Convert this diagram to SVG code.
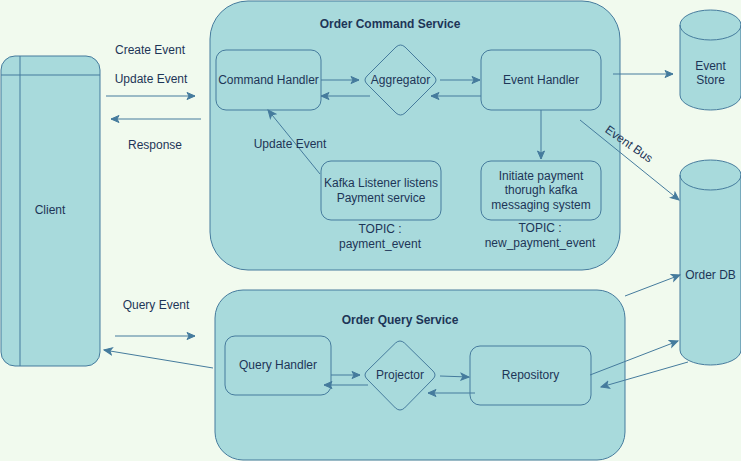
<svg xmlns="http://www.w3.org/2000/svg" width="741" height="461" viewBox="0 0 741 461">
<defs>
<marker id="ah" markerUnits="userSpaceOnUse" markerWidth="10" markerHeight="10" viewBox="0 0 10 10" refX="9" refY="5" orient="auto">
<path d="M1,1.5 L9,5 L1,8.5 L3,5 Z" fill="#457B9D" stroke="#457B9D" stroke-width="1"/>
</marker>
</defs>
<style>
.shape{fill:#A8DADC;stroke:#457B9D;stroke-width:1}
.edge{fill:none;stroke:#457B9D;stroke-width:1;marker-end:url(#ah)}
text{font-family:"Liberation Sans",Arial,sans-serif;font-size:12px;fill:#1D3557;text-anchor:middle}
.title{font-weight:bold}
</style>
<rect width="741" height="461" fill="#F1FAEE"/>
<g id="client">
<rect class="shape" x="1" y="56" width="99" height="310" rx="14"/>
<line x1="20" y1="56" x2="20" y2="366" stroke="#457B9D"/>
<line x1="1" y1="75" x2="100" y2="75" stroke="#457B9D"/>
<text x="50" y="214">Client</text>
</g>
<g id="command-service">
<rect class="shape" x="210" y="1" width="410" height="269" rx="38"/>
<text class="title" x="390" y="28">Order Command Service</text>
</g>
<g id="query-service">
<rect class="shape" x="215" y="290" width="410" height="170" rx="28"/>
<text class="title" x="400" y="324">Order Query Service</text>
</g>
<g id="command-handler">
<rect class="shape" x="216" y="50" width="105" height="60" rx="10"/>
<text x="268.5" y="84">Command Handler</text>
</g>
<g id="aggregator">
<path class="shape" d="M396,47 Q400.5,43 405,47 L434,76 Q438,80 434,84 L405,113 Q400.5,117 396,113 L367,84 Q363,80 367,76 Z"/>
<text x="400.5" y="84">Aggregator</text>
</g>
<g id="event-handler">
<rect class="shape" x="481" y="50" width="120" height="60" rx="10"/>
<text x="541" y="84">Event Handler</text>
</g>
<g id="kafka-listener">
<rect class="shape" x="321" y="161" width="120" height="59" rx="10"/>
<text x="381" y="187">Kafka Listener listens</text>
<text x="381" y="202">Payment service</text>
<text x="380" y="233">TOPIC :</text>
<text x="380" y="248">payment_event</text>
</g>
<g id="initiate-payment">
<rect class="shape" x="481" y="161" width="120" height="59" rx="10"/>
<text x="541" y="180">Initiate payment</text>
<text x="541" y="194">thorugh kafka</text>
<text x="541" y="209">messaging system</text>
<text x="540" y="232">TOPIC :</text>
<text x="540" y="247">new_payment_event</text>
</g>
<g id="event-store">
<path class="shape" d="M680,25 A30.5,15 0 0 1 741,25 L741,95 A30.5,15 0 0 1 680,95 Z"/>
<path d="M680,25 A30.5,15 0 0 0 741,25" fill="none" stroke="#457B9D"/>
<text x="710.5" y="70">Event</text>
<text x="710.5" y="84">Store</text>
</g>
<g id="order-db">
<path class="shape" d="M680,175 A30.5,15 0 0 1 741,175 L741,350 A30.5,15 0 0 1 680,350 Z"/>
<path d="M680,175 A30.5,15 0 0 0 741,175" fill="none" stroke="#457B9D"/>
<text x="710.5" y="279">Order DB</text>
</g>
<g id="query-handler">
<rect class="shape" x="225" y="336" width="106" height="59" rx="10"/>
<text x="278" y="369">Query Handler</text>
</g>
<g id="projector">
<path class="shape" d="M395.5,343 Q400,339 404.5,343 L433,371 Q437,375 433,379 L404.5,408 Q400,412 395.5,408 L367,379 Q363,375 367,371 Z"/>
<text x="400" y="379">Projector</text>
</g>
<g id="repository">
<rect class="shape" x="470" y="346" width="121" height="59" rx="10"/>
<text x="530.5" y="379">Repository</text>
</g>
<g id="connectors">
<line class="edge" x1="106" y1="96" x2="195" y2="96"/>
<line class="edge" x1="201" y1="119" x2="111" y2="119"/>
<line class="edge" x1="321" y1="80" x2="359" y2="80"/>
<line class="edge" x1="370" y1="96" x2="321" y2="96"/>
<line class="edge" x1="440" y1="80" x2="480" y2="80"/>
<line class="edge" x1="481" y1="96" x2="431" y2="96"/>
<line class="edge" x1="613" y1="74" x2="673" y2="74"/>
<line class="edge" x1="541" y1="110" x2="541" y2="159"/>
<line class="edge" x1="320" y1="174" x2="268" y2="110"/>
<line class="edge" x1="580" y1="120" x2="679" y2="200"/>
<line class="edge" x1="115" y1="336" x2="195" y2="336"/>
<line class="edge" x1="213" y1="368" x2="104" y2="350"/>
<line class="edge" x1="331" y1="375" x2="360" y2="375"/>
<line class="edge" x1="368" y1="385" x2="324" y2="385"/>
<line class="edge" x1="440" y1="376" x2="469" y2="377"/>
<line class="edge" x1="475" y1="393" x2="428" y2="393"/>
<line class="edge" x1="590" y1="375" x2="678" y2="341"/>
<line class="edge" x1="688" y1="362" x2="601" y2="387"/>
<line class="edge" x1="625" y1="296" x2="680" y2="275"/>
<text x="150" y="54">Create Event</text>
<text x="151" y="83">Update Event</text>
<text x="155" y="149">Response</text>
<text x="290" y="148">Update Event</text>
<text x="156" y="309">Query Event</text>
<text x="629" y="148" transform="rotate(35 629 144)">Event Bus</text>
</g>
</svg>
